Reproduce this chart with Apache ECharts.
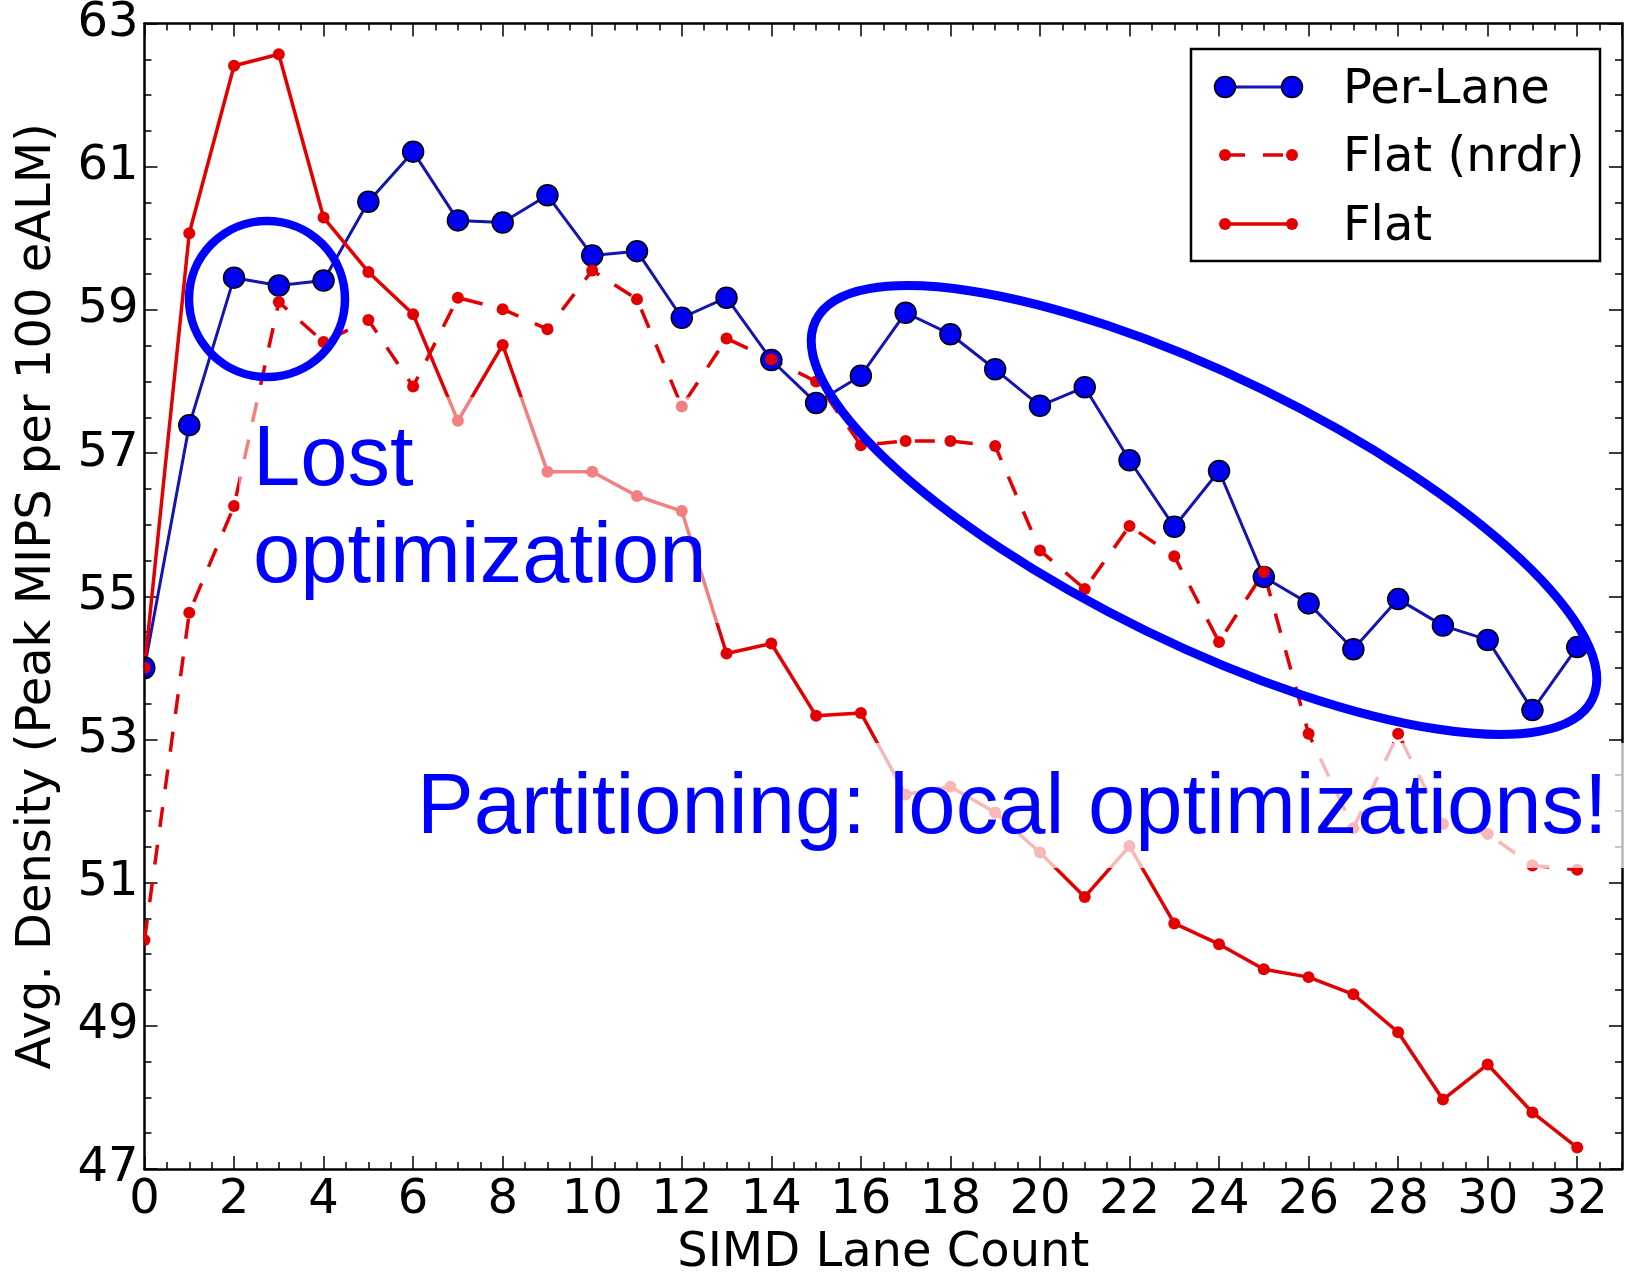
<!DOCTYPE html>
<html>
<head>
<meta charset="utf-8">
<script src="https://cdn.jsdelivr.net/npm/echarts@6/dist/echarts.min.js"></script>
<style>
  html, body { margin: 0; padding: 0; background: #fff; }
  #chart { width: 1633px; height: 1275px; }
</style>
</head>
<body>
<div id="chart"></div>
<script>
// SIMD lane counts on the x axis
const lanes = [0, 1, 2, 3, 4, 5, 6, 7, 8, 9, 10, 11, 12, 13, 14, 15, 16,
               17, 18, 19, 20, 21, 22, 23, 24, 25, 26, 27, 28, 29, 30, 31, 32];

// Average density (peak MIPS per 100 eALM) for each configuration
const perLane = [54.00, 57.39, 59.45, 59.34, 59.41, 60.51, 61.21, 60.25, 60.22, 60.60,
                 59.76, 59.82, 58.89, 59.17, 58.30, 57.70, 58.08, 58.96, 58.66, 58.17,
                 57.66, 57.92, 56.90, 55.97, 56.75, 55.27, 54.90, 54.26, 54.96, 54.59,
                 54.39, 53.41, 54.29];
const flatNrdr = [50.20, 54.77, 56.26, 59.11, 58.55, 58.86, 57.93, 59.17, 59.01, 58.73,
                  59.55, 59.15, 57.65, 58.60, 58.31, 58.00, 57.11, 57.17, 57.17, 57.10,
                  55.64, 55.10, 55.98, 55.56, 54.36, 55.34, 53.08, 51.76, 53.08, 51.82,
                  51.68, 51.24, 51.18];
const flat = [54.00, 60.07, 62.41, 62.57, 60.29, 59.53, 58.94, 57.45, 58.51, 56.74,
              56.74, 56.40, 56.19, 54.20, 54.34, 53.33, 53.37, 52.23, 52.34, 51.98,
              51.42, 50.80, 51.51, 50.43, 50.14, 49.79, 49.68, 49.44, 48.91, 47.97,
              48.46, 47.79, 47.30];

const seriesNames = ['Per-Lane', 'Flat (nrdr)', 'Flat'];

const TICK_FONT = 'DejaVu Sans';
const NOTE_FONT = 'Liberation Sans';
const BLUE_LINE = '#1414b4';
const BLUE_MARK = '#0000f0';
const RED = '#e40000';
const NOTE_BLUE = '#0000ff';
const DASH = [20, 18];

// right half of a disc: markers sitting on the left spine are cut by the plot frame
const HALF_DISC = 'path://M0,0 A10,10 0 0 1 0,20 Z';

function pairs(ys, size) {
  return lanes.map((x, i) => {
    const item = { value: [x, ys[i]] };
    if (x === 0) {
      item.symbol = HALF_DISC;
      item.symbolSize = [size / 2, size];
      item.symbolOffset = [size / 4, 0];
    }
    return item;
  });
}

const tickStyle = { color: '#000', width: 1.5 };
const lineStyle = { color: '#000', width: 2.5 };

function axis(extra) {
  return Object.assign({
    type: 'value',
    splitLine: { show: false },
    axisLine: { show: true, onZero: false, lineStyle: lineStyle },
    axisLabel: { show: false }
  }, extra);
}

const xAxes = [
  axis({
    min: 0, max: 33, interval: 2, position: 'bottom',
    axisTick: { inside: true, length: 13, lineStyle: tickStyle },
    axisLabel: { show: true, color: '#000', fontSize: 48, fontFamily: TICK_FONT, margin: 8, showMaxLabel: false },
    name: 'SIMD Lane Count', nameLocation: 'middle', nameGap: 58,
    nameTextStyle: { color: '#000', fontSize: 48, fontFamily: TICK_FONT }
  }),
  axis({ min: 0, max: 33, interval: 0.5, position: 'bottom',
         axisLine: { show: false, onZero: false },
         axisTick: { inside: true, length: 7, lineStyle: tickStyle } }),
  axis({ min: 0, max: 33, interval: 2, position: 'top',
         axisTick: { inside: true, length: 13, lineStyle: tickStyle } }),
  axis({ min: 0, max: 33, interval: 0.5, position: 'top',
         axisLine: { show: false, onZero: false },
         axisTick: { inside: true, length: 7, lineStyle: tickStyle } })
];

const yAxes = [
  axis({
    min: 47, max: 63, interval: 2, position: 'left',
    axisTick: { inside: true, length: 13, lineStyle: tickStyle },
    axisLabel: { show: true, color: '#000', fontSize: 48, fontFamily: TICK_FONT, margin: 6 },
    name: 'Avg. Density (Peak MIPS per 100 eALM)', nameLocation: 'middle', nameGap: 83,
    nameTextStyle: { color: '#000', fontSize: 48, fontFamily: TICK_FONT }
  }),
  axis({ min: 47, max: 63, interval: 0.5, position: 'left',
         axisLine: { show: false, onZero: false },
         axisTick: { inside: true, length: 7, lineStyle: tickStyle } }),
  axis({ min: 47, max: 63, interval: 2, position: 'right',
         axisTick: { inside: true, length: 13, lineStyle: tickStyle } }),
  axis({ min: 47, max: 63, interval: 0.5, position: 'right',
         axisLine: { show: false, onZero: false },
         axisTick: { inside: true, length: 7, lineStyle: tickStyle } })
];

const series = [
  {
    name: seriesNames[0], type: 'line', data: pairs(perLane, 21),
    symbol: 'circle', symbolSize: 21,
    lineStyle: { color: BLUE_LINE, width: 3 },
    itemStyle: { color: BLUE_MARK, borderColor: '#000', borderWidth: 1.5 }
  },
  {
    name: seriesNames[1], type: 'line', data: pairs(flatNrdr, 12),
    symbol: 'circle', symbolSize: 12,
    lineStyle: { color: RED, width: 3.5, type: DASH },
    itemStyle: { color: RED, borderWidth: 0 }
  },
  {
    name: seriesNames[2], type: 'line', data: pairs(flat, 12),
    symbol: 'circle', symbolSize: 12,
    lineStyle: { color: RED, width: 3.5 },
    itemStyle: { color: RED, borderWidth: 0 }
  }
].map(s => Object.assign(s, { xAxisIndex: 0, yAxisIndex: 0, emphasis: { disabled: true } }));

function noteText(text, x, y) {
  return {
    type: 'text', z: 51, silent: true,
    style: { text: text, x: x, y: y, fill: NOTE_BLUE, fontSize: 85, fontFamily: NOTE_FONT,
             align: 'left', textAlign: 'left', verticalAlign: 'middle', textVerticalAlign: 'middle' }
  };
}

// Legend, drawn as a framed box with two markers per sample line
const legendRows = [
  { name: seriesNames[0], y: 87, stroke: BLUE_LINE, width: 3, dash: null, r: 10.5, fill: BLUE_MARK, edge: '#000' },
  { name: seriesNames[1], y: 155, stroke: RED, width: 3.5, dash: DASH, r: 6, fill: RED, edge: null },
  { name: seriesNames[2], y: 224, stroke: RED, width: 3.5, dash: null, r: 6, fill: RED, edge: null }
];
const legendEls = [
  { type: 'rect', z: 60, shape: { x: 1191, y: 49, width: 409, height: 212 },
    style: { fill: '#fff', stroke: '#000', lineWidth: 2.5 } }
];
legendRows.forEach(row => {
  legendEls.push({ type: 'line', z: 61, shape: { x1: 1225, y1: row.y, x2: 1292, y2: row.y },
    style: { stroke: row.stroke, lineWidth: row.width, lineDash: row.dash || null } });
  [1225, 1292].forEach(cx => legendEls.push({
    type: 'circle', z: 62, shape: { cx: cx, cy: row.y, r: row.r },
    style: { fill: row.fill, stroke: row.edge || null, lineWidth: row.edge ? 1.5 : 0 }
  }));
  legendEls.push({
    type: 'text', z: 62,
    style: { text: row.name, x: 1343, y: row.y + 4, fill: '#000', fontSize: 48, fontFamily: TICK_FONT,
             align: 'left', textAlign: 'left', verticalAlign: 'middle', textVerticalAlign: 'middle' }
  });
});

const notes = [
  // translucent panels behind the annotation text
  { type: 'rect', z: 50, silent: true, shape: { x: 239, y: 397, width: 481, height: 226 },
    style: { fill: 'rgba(255,255,255,0.5)' } },
  { type: 'rect', z: 50, silent: true, shape: { x: 402, y: 743, width: 1228, height: 125 },
    style: { fill: 'rgba(255,255,255,0.72)' } },
  noteText('Lost', 253, 462),
  noteText('optimization', 253, 559),
  noteText('Partitioning: local optimizations!', 417, 809.5),
  // highlight rings
  { type: 'circle', z: 52, silent: true, shape: { cx: 267, cy: 299, r: 78 },
    style: { fill: 'none', stroke: NOTE_BLUE, lineWidth: 8.5 } },
  { type: 'ellipse', z: 52, silent: true, x: 1204, y: 510, rotation: -26 * Math.PI / 180,
    shape: { cx: 0, cy: 0, rx: 432, ry: 134 },
    style: { fill: 'none', stroke: NOTE_BLUE, lineWidth: 9 } }
];

const chart = echarts.init(document.getElementById('chart'), null, { renderer: 'canvas' });
chart.setOption({
  animation: false,
  backgroundColor: '#fff',
  grid: { left: 144.5, right: 11, top: 23.5, bottom: 106, containLabel: false, outerBoundsMode: 'none' },
  xAxis: xAxes,
  yAxis: yAxes,
  series: series,
  graphic: { elements: notes.concat(legendEls) }
});
</script>
</body>
</html>
